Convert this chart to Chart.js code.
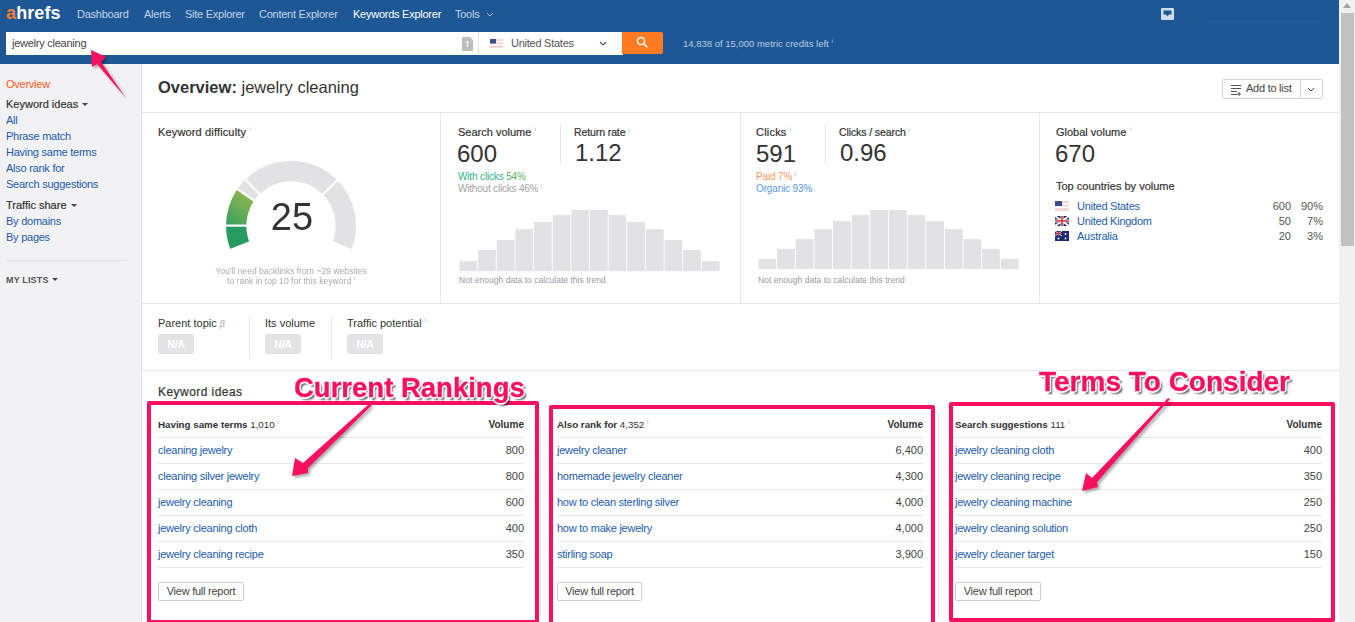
<!DOCTYPE html>
<html><head><meta charset="utf-8"><title>Ahrefs Keywords Explorer</title>
<script src="https://cdn.jsdelivr.net/npm/chart.js@4/dist/chart.umd.min.js"></script>
<style>
html,body{margin:0;padding:0;width:1355px;height:622px;overflow:hidden;background:#fff;font-family:"Liberation Sans",Arial,sans-serif;font-size:11px;letter-spacing:-.25px;color:#333}
.a{position:absolute;white-space:nowrap;line-height:14px}
.box{position:absolute;box-sizing:border-box}
.l{color:#1c5bab}
.b{font-weight:bold}
.m{letter-spacing:0;color:#333;-webkit-text-stroke:.2px #333}
.big{font-size:24px;line-height:28px;letter-spacing:0;color:#333}
.nav{color:#c3d5e8;top:7px}
.g{color:#aaa;font-size:8.6px;letter-spacing:0}
.na{position:absolute;width:36px;height:20px;top:334px;background:#e4e4e6;border-radius:2px;color:#fff;font-weight:bold;font-size:10.5px;line-height:20px;text-align:center}
.pink{position:absolute;box-sizing:border-box;border:4px solid #fb0f5e;border-radius:2px;z-index:5}
.note{position:absolute;z-index:8;font-family:"Liberation Sans",Arial,sans-serif;font-weight:bold;line-height:30px;letter-spacing:0;color:#f9105f;white-space:nowrap;-webkit-text-stroke:.3px #f9105f;
text-shadow:-1.6px 0 #fff,1.6px 0 #fff,0 -1.6px #fff,0 1.6px #fff,-1.2px -1.2px #fff,1.2px -1.2px #fff,-1.2px 1.2px #fff,1.2px 1.2px #fff,2.5px 2.5px 2px rgba(0,0,0,.6)}
canvas{position:absolute;display:block}
svg{position:absolute;overflow:visible}
.btn{position:absolute;box-sizing:border-box;height:19px;top:582px;border:1px solid #ccc;border-radius:2px;background:#fff;text-align:center;line-height:17px;color:#444}
sup{font-size:6px;line-height:0;font-weight:normal;color:#aaa;-webkit-text-stroke:0}
.tri{display:inline-block;width:0;height:0;border:3px solid transparent;border-top:3.5px solid #444;border-bottom:0;vertical-align:2px;margin-left:1px}
</style></head>
<body>
<!-- shell -->
<div class="box" style="left:0;top:0;width:1339px;height:64px;background:#1e5796"></div>
<div class="box" style="left:0;top:64px;width:142px;height:558px;background:#f2f2f5;border-right:1px solid #e4e4e6"></div>
<div class="box" style="left:1339px;top:0;width:16px;height:622px;background:#f1f1f1"></div>
<div class="box" style="left:1341px;top:13px;width:13px;height:233px;background:#c1c1c1"></div>
<svg style="left:0;top:0" width="1355" height="622"><path d="M1343 8l4-5 4 5z" fill="#a3a3a3"/></svg>

<!-- top bar -->
<div class="a" style="left:6px;top:3px;font:bold 18px/20px 'Liberation Sans',Arial,sans-serif;letter-spacing:.1px;color:#fff"><span style="color:#f47b30">a</span>hrefs</div>
<div class="a nav" style="left:77px">Dashboard</div>
<div class="a nav" style="left:144px">Alerts</div>
<div class="a nav" style="left:185px">Site Explorer</div>
<div class="a nav" style="left:259px">Content Explorer</div>
<div class="a nav" style="left:353px;color:#fff">Keywords Explorer</div>
<div class="a nav" style="left:455px">Tools</div>
<svg style="left:0;top:0" width="700" height="64"><path d="M487 13l3 3 3-3" fill="none" stroke="#a9c1da"/></svg>
<div class="box" style="left:6px;top:32px;width:472px;height:23px;background:#fff"></div>
<div class="box" style="left:479px;top:32px;width:144px;height:23px;background:#fff"></div>
<div class="box" style="left:622px;top:32px;width:41px;height:22px;background:#fe7b22;border-radius:0 2px 2px 0"></div>
<svg style="left:0;top:0" width="700" height="64">
<path d="M462 37h8l3 3v11h-11z" fill="#bdbdbd"/><path d="M467.5 41v6M465.5 43l2-2 2 2" stroke="#fff" fill="none"/>
<rect x="478" y="32" width="1" height="23" fill="#e4e4e6"/>
<rect x="490" y="39" width="13" height="9" fill="#f4d4d4"/><rect x="490" y="41" width="13" height="1.4" fill="#fff"/><rect x="490" y="44" width="13" height="1.4" fill="#fff"/><rect x="490" y="39" width="6" height="4.5" fill="#3c4f86"/>
<path d="M600 42l3 3 3-3" fill="none" stroke="#555" stroke-width="1.2"/>
<circle cx="641" cy="41" r="3.6" fill="none" stroke="#fff" stroke-width="1.5"/><path d="M643.7 43.7l3.6 3.6" stroke="#fff" stroke-width="1.6"/></svg>
<div class="a" style="left:12px;top:36px;color:#444">jewelry cleaning</div>
<div class="a" style="left:511px;top:36px;color:#555">United States</div>
<div class="a" style="left:683px;top:37px;font-size:9.5px;color:#b7cde3;letter-spacing:0">14,838 of 15,000 metric credits left <sup style="color:#b7cde3">i</sup></div>
<svg style="left:1150px;top:0" width="190" height="30"><rect x="11" y="8" width="13" height="12" rx="1" fill="#cfdcea"/><path d="M13.500 10.500h8v4h-2.500l-1.500 2-1.500-2h-2.500z" fill="#1e5796"/><rect x="57" y="21.500" width="115" height="1" fill="#236090"/></svg>

<!-- sidebar -->
<div class="a" style="left:6px;top:77px;color:#fb5a24">Overview</div>
<div class="a m" style="left:6px;top:97px">Keyword ideas <span class="tri"></span></div>
<div class="a l" style="left:6px;top:113px">All</div>
<div class="a l" style="left:6px;top:129px">Phrase match</div>
<div class="a l" style="left:6px;top:145px">Having same terms</div>
<div class="a l" style="left:6px;top:161px">Also rank for</div>
<div class="a l" style="left:6px;top:177px">Search suggestions</div>
<div class="a m" style="left:6px;top:198px">Traffic share <span class="tri"></span></div>
<div class="a l" style="left:6px;top:214px">By domains</div>
<div class="a l" style="left:6px;top:230px">By pages</div>
<div class="box" style="left:6px;top:260px;width:121px;height:1px;background:#e3e3e6"></div>
<div class="a" style="left:6px;top:273px;font-size:9px;font-weight:bold;letter-spacing:.15px;color:#555">MY LISTS <span class="tri"></span></div>

<!-- title strip -->
<div class="a" style="left:158px;top:77px;font-size:16.5px;line-height:20px;letter-spacing:0;color:#333"><b>Overview:</b> jewelry cleaning</div>
<div class="box" style="left:1222px;top:79px;width:101px;height:20px;border:1px solid #d4d4d4;border-radius:2px"></div>
<div class="box" style="left:1300px;top:79px;width:1px;height:20px;background:#d4d4d4"></div>
<div class="a" style="left:1246px;top:81px;color:#444">Add to list</div>
<svg style="left:1230px;top:84px" width="92" height="12"><path d="M1 1.500h10M1 4.500h10M1 7.500h6M1 10.500h6M9 8v4M7 10h4" stroke="#555" fill="none"/><path d="M78 4l3 3 3-3" fill="none" stroke="#555"/></svg>

<!-- grid lines -->
<div class="box" style="left:142px;top:112px;width:1197px;height:1px;background:#e6e6e6"></div>
<div class="box" style="left:142px;top:303px;width:1197px;height:1px;background:#e6e6e6"></div>
<div class="box" style="left:142px;top:370px;width:1197px;height:1px;background:#e6e6e6"></div>
<div class="box" style="left:440px;top:112px;width:1px;height:191px;background:#e6e6e6"></div>
<div class="box" style="left:740px;top:112px;width:1px;height:191px;background:#e6e6e6"></div>
<div class="box" style="left:1039px;top:112px;width:1px;height:191px;background:#e6e6e6"></div>
<div class="box" style="left:560px;top:125px;width:1px;height:38px;background:#e6e6e6"></div>
<div class="box" style="left:825px;top:125px;width:1px;height:38px;background:#e6e6e6"></div>
<div class="box" style="left:249px;top:316px;width:1px;height:42px;background:#e6e6e6"></div>
<div class="box" style="left:331px;top:316px;width:1px;height:42px;background:#e6e6e6"></div>
<div class="box" style="left:540px;top:413px;width:1px;height:205px;background:#e6e6e6"></div>
<div class="box" style="left:938px;top:413px;width:1px;height:205px;background:#e6e6e6"></div>

<!-- keyword difficulty -->
<div class="a m" style="left:158px;top:125px;letter-spacing:.15px">Keyword difficulty <sup>i</sup></div>
<canvas id="gauge" width="150" height="150" style="left:216px;top:130px"></canvas>
<div class="a" style="left:242px;top:195px;width:100px;text-align:center;font-size:38px;line-height:44px;letter-spacing:0;color:#333" id="kdScore"></div>
<div class="a g" style="left:191px;top:267px;width:200px;text-align:center;line-height:9.500px">You'll need backlinks from ~29 websites<br>to rank in top 10 for this keyword <sup>i</sup></div>

<!-- search volume -->
<div class="a m" style="left:458px;top:125px">Search volume <sup>i</sup></div>
<div class="a big" style="left:457px;top:140px">600</div>
<div class="a m" style="left:574px;top:125px;font-size:10.5px;letter-spacing:-.1px">Return rate <sup>i</sup></div>
<div class="a big" style="left:575px;top:139px">1.12</div>
<div class="a" style="left:458px;top:170px;font-size:10px;color:#2fb08d;letter-spacing:-.15px">With clicks <span style="color:#59ad62">54%</span></div>
<div class="a" style="left:458px;top:182px;font-size:10px;color:#a5a5a5;letter-spacing:-.2px">Without clicks 46% <sup>i</sup></div>
<canvas id="volBars" width="261" height="66" style="left:459px;top:205px"></canvas>
<div class="a" style="left:459px;top:273px;font-size:8.500px;letter-spacing:.03px;color:#9a9a9a">Not enough data to calculate this trend</div>

<!-- clicks -->
<div class="a m" style="left:756px;top:125px;letter-spacing:.2px">Clicks <sup>i</sup></div>
<div class="a big" style="left:756px;top:140px">591</div>
<div class="a m" style="left:839px;top:125px;font-size:10.5px;letter-spacing:-.1px">Clicks / search <sup>i</sup></div>
<div class="a big" style="left:840px;top:139px">0.96</div>
<div class="a" style="left:756px;top:170px;font-size:10px;color:#f89a57;letter-spacing:-.15px">Paid 7% <sup>i</sup></div>
<div class="a" style="left:756px;top:182px;font-size:10px;color:#589ae2;letter-spacing:-.15px">Organic 93%</div>
<canvas id="clickBars" width="261" height="66" style="left:758px;top:203px"></canvas>
<div class="a" style="left:758px;top:273px;font-size:8.500px;letter-spacing:.03px;color:#9a9a9a">Not enough data to calculate this trend</div>

<!-- global -->
<div class="a m" style="left:1056px;top:125px">Global volume <sup>i</sup></div>
<div class="a big" style="left:1055px;top:140px">670</div>
<div class="a m" style="left:1056px;top:179px">Top countries by volume</div>
<div id="countries"></div>
<svg style="left:1055px;top:200px" width="15" height="42">
<rect x="0" y="1" width="14" height="10" fill="#f3d7d7"/><rect y="3" width="14" height="1.500" fill="#fff"/><rect y="6.500" width="14" height="1.500" fill="#fff"/><rect y="1" width="7" height="5" fill="#3c4f86"/>
<rect y="16" width="14" height="10" fill="#27306e"/><path d="M0 16l14 10M14 16L0 26" stroke="#fff" stroke-width="1.600"/><path d="M7 16v10M0 21h14" stroke="#fff" stroke-width="3"/><path d="M7 16v10M0 21h14" stroke="#d0303a" stroke-width="1.600"/>
<rect y="31" width="14" height="10" fill="#1d2a78"/><path d="M0 31l7 5M7 31L0 36" stroke="#ddd" stroke-width="1"/><path d="M3.500 31v5M0 33.500h7" stroke="#d0303a" stroke-width="1"/><circle cx="10.500" cy="34" r=".9" fill="#fff"/><circle cx="10.500" cy="38.500" r=".9" fill="#fff"/><circle cx="3.500" cy="38.500" r="1" fill="#fff"/></svg>

<!-- parent topic -->
<div class="a" style="left:158px;top:316px;letter-spacing:0">Parent topic <i style="font-size:9px;color:#aaa">β</i></div>
<div class="a" style="left:265px;top:316px;letter-spacing:0">Its volume</div>
<div class="a" style="left:347px;top:316px;letter-spacing:0">Traffic potential <sup>i</sup></div>
<div class="na" style="left:158px">N/A</div><div class="na" style="left:265px">N/A</div><div class="na" style="left:347px">N/A</div>

<div class="a m" style="left:158px;top:385px;font-size:12px;letter-spacing:.45px">Keyword ideas</div>

<!-- keyword tables -->
<div id="tables"></div>

<!-- annotations -->
<div class="pink" style="left:147px;top:401px;width:392px;height:223px"></div>
<div class="pink" style="left:549px;top:405px;width:386px;height:221px"></div>
<div class="pink" style="left:949px;top:402px;width:386px;height:220px"></div>
<div class="note" style="left:294px;top:373px;font-size:27.5px">Current Rankings</div>
<div class="note" style="left:1039px;top:367px;font-size:28px">Terms To Consider</div>
<svg style="left:0;top:0;z-index:7;filter:drop-shadow(2px 2px 1.500px rgba(0,0,0,.35))" width="1355" height="622">
<polygon fill="#f9105f" points="91,50 106,57 101,62 126,98 97,64 92,67"/>
<polygon fill="#f9105f" points="292,476 295,458 303,463 369,404 372,405 308,468 308,473"/>
<polygon fill="#f9105f" points="1082,491 1086,473 1092,478 1168,398 1170,399 1097,482 1098,487"/>
</svg>

<script>
/* gauge */
const gaugeSegments = ["easy", "low", "rest-left", "rest-top", "rest-right"];
const gaugeSizes = [22, 34, 11, 90, 66];
const keywordDifficulty = 25;

/* histograms */
const binLabels = ["1","2","3","4","5","6","7","8","9","10","11","12","13","14"];
const searchVolumeBars = [10, 21, 31, 42, 49, 56, 61, 61, 56, 49, 42, 31, 21, 10];
const clicksBars = [10, 20, 30, 40, 48, 54, 59, 59, 54, 48, 40, 30, 20, 10];

/* countries */
const countryNames = ["United States", "United Kingdom", "Australia"];
const countryVolumes = [600, 50, 20];
const countryShares = ["90%", "7%", "3%"];

/* keyword tables */
const sameTermsKeywords = ["cleaning jewelry", "cleaning silver jewelry", "jewelry cleaning", "jewelry cleaning cloth", "jewelry cleaning recipe"];
const sameTermsVolumes = ["800", "800", "600", "400", "350"];
const alsoRankKeywords = ["jewelry cleaner", "homemade jewelry cleaner", "how to clean sterling silver", "how to make jewelry", "stirling soap"];
const alsoRankVolumes = ["6,400", "4,300", "4,000", "4,000", "3,900"];
const suggestionKeywords = ["jewelry cleaning cloth", "jewelry cleaning recipe", "jewelry cleaning machine", "jewelry cleaning solution", "jewelry cleaner target"];
const suggestionVolumes = ["400", "350", "250", "250", "150"];

const el = (html) => { const t = document.createElement('template'); t.innerHTML = html.trim(); return t.content.firstChild; };

document.getElementById('kdScore').textContent = keywordDifficulty;

const tables = [
  {x:158, r:524, btn:86, title:"Having same terms", count:"1,010", k:sameTermsKeywords, v:sameTermsVolumes},
  {x:557, r:923, btn:85, title:"Also rank for", count:"4,352", k:alsoRankKeywords, v:alsoRankVolumes},
  {x:955, r:1322, btn:86, title:"Search suggestions", count:"111", k:suggestionKeywords, v:suggestionVolumes}
];
const host = document.getElementById('tables');
tables.forEach(t => {
  host.append(el(`<div class="a" style="left:${t.x}px;top:418px;font-size:9.8px;letter-spacing:-.02px"><b>${t.title}</b> ${t.count} <sup>i</sup></div>`));
  host.append(el(`<div class="a" style="left:${t.r-60}px;width:60px;text-align:right;top:418px;font-size:10px;font-weight:bold;letter-spacing:.03px">Volume</div>`));
  host.append(el(`<div class="box" style="left:${t.x}px;top:437px;width:${t.r-t.x}px;height:1px;background:#e6e6e6"></div>`));
  t.k.forEach((kw,i) => {
    const y = 443 + 26*i;
    host.append(el(`<div class="a l" style="left:${t.x}px;top:${y}px">${kw}</div>`));
    host.append(el(`<div class="a" style="left:${t.r-60}px;width:60px;text-align:right;top:${y}px;color:#444;letter-spacing:0">${t.v[i]}</div>`));
    host.append(el(`<div class="box" style="left:${t.x}px;top:${463+26*i}px;width:${t.r-t.x}px;height:1px;background:#e6e6e6"></div>`));
  });
  host.append(el(`<div class="btn" style="left:${t.x}px;width:${t.btn}px">View full report</div>`));
});

const cHost = document.getElementById('countries');
countryNames.forEach((n,i) => {
  const y = 199 + 15*i;
  cHost.append(el(`<div class="a l" style="left:1077px;top:${y}px">${n}</div>`));
  cHost.append(el(`<div class="a" style="left:1240px;width:51px;text-align:right;top:${y}px;color:#555;letter-spacing:0">${countryVolumes[i]}</div>`));
  cHost.append(el(`<div class="a" style="left:1295px;width:28px;text-align:right;top:${y}px;color:#555;letter-spacing:0">${countryShares[i]}</div>`));
});

/* charts */
Chart.defaults.animation = false;
const barChart = (id, data) => new Chart(document.getElementById(id), {
  type: 'bar',
  data: { labels: binLabels, datasets: [{ data, backgroundColor: '#e2e2e4', borderWidth: 0, barPercentage: 1, categoryPercentage: 0.95 }] },
  options: { responsive:false, maintainAspectRatio:false, devicePixelRatio:1,
    plugins:{legend:{display:false},tooltip:{enabled:false}},
    scales:{ x:{display:false}, y:{display:false, min:0, max:66} } }
});
barChart('volBars', searchVolumeBars);
barChart('clickBars', clicksBars);

new Chart(document.getElementById('gauge'), {
  type: 'doughnut',
  data: { labels: gaugeSegments, datasets: [{ data: gaugeSizes, borderColor:'#fff', borderWidth:2,
    backgroundColor(ctx){
      const i = ctx.dataIndex;
      if (i === 0) return '#279c60';
      if (i === 1) {
        const g = ctx.chart.ctx.createLinearGradient(10, 94, 35, 58);
        g.addColorStop(0, '#3aa05f'); g.addColorStop(1, '#a0ba4a');
        return g;
      }
      return '#e2e2e4';
    } }] },
  options: { responsive:false, maintainAspectRatio:false, devicePixelRatio:1,
    rotation:-111.5, circumference:223, radius:66, cutout:49,
    plugins:{legend:{display:false},tooltip:{enabled:false}} }
});
</script>
</body></html>
